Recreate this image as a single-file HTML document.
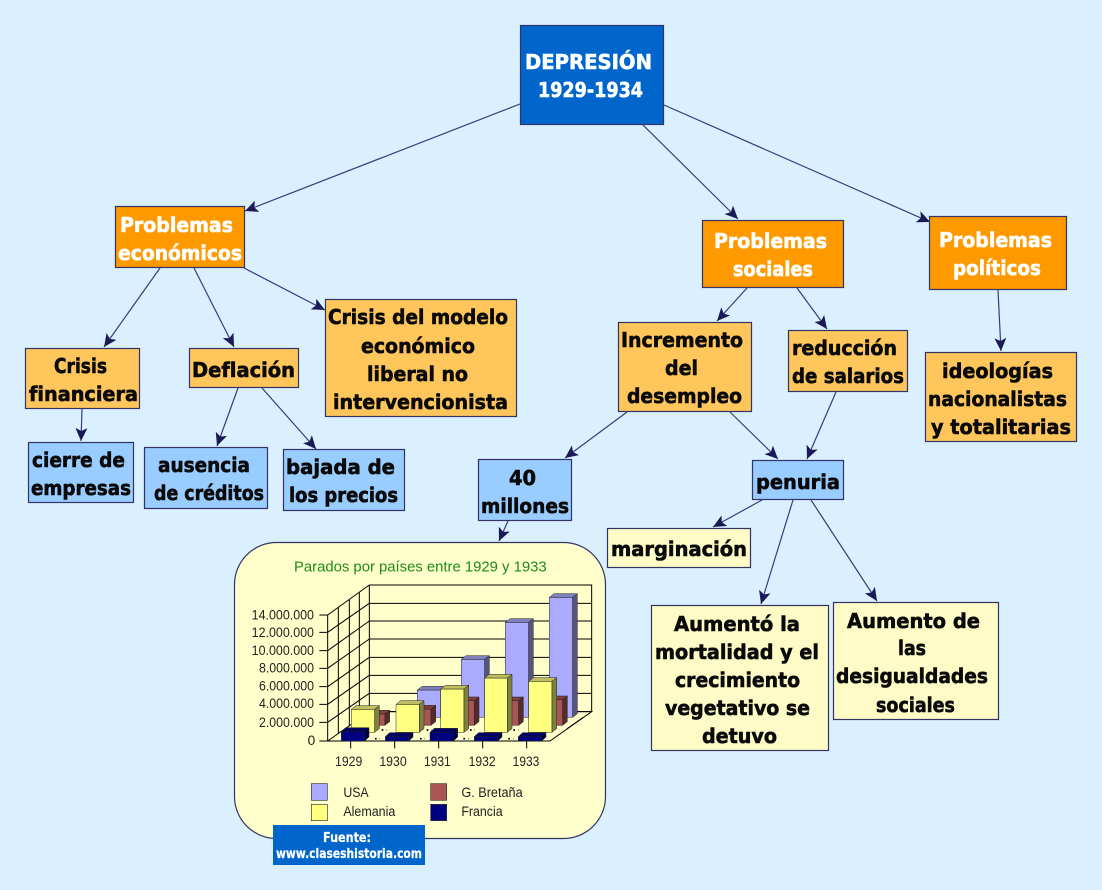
<!DOCTYPE html>
<html lang="es">
<head>
<meta charset="utf-8">
<title>Depresión 1929-1934</title>
<style>
html,body{margin:0;padding:0;background:#DAF0FF;}
svg{display:block;}
.b{stroke:#333366;stroke-width:1.2;}
.t{font-family:"DejaVu Sans",sans-serif;font-weight:bold;font-size:20px;fill:#0a0a0a;stroke:#0a0a0a;stroke-width:.6;}
.w{fill:#fff;stroke:#fff;}
.c{stroke:#3A3A7A;stroke-width:1.2;fill:none;marker-end:url(#a);}
.g{stroke:#000;stroke-width:3;fill:none;}
.l{font-family:"Liberation Sans",sans-serif;font-size:41px;fill:#222;}
</style>
</head>
<body>
<svg width="1102" height="890" viewBox="0 0 1102 890" xmlns="http://www.w3.org/2000/svg">
<defs>
<marker id="a" markerUnits="userSpaceOnUse" markerWidth="14" markerHeight="12" refX="13" refY="6" orient="auto">
<path d="M0 0L13 6L0 12L3 6Z" fill="#1A1A55"/>
</marker>
</defs>
<rect width="1102" height="890" fill="#DAF0FF"/>

<!-- connectors -->
<path class="c" d="M520 104L245 211"/>
<path class="c" d="M643 125L738 219"/>
<path class="c" d="M664 105L930 222"/>
<path class="c" d="M160 268L104 347"/>
<path class="c" d="M194 268L234 347"/>
<path class="c" d="M244 268L325 310"/>
<path class="c" d="M747 288L717 321"/>
<path class="c" d="M797 288L827 329"/>
<path class="c" d="M998 290L1001 351"/>
<path class="c" d="M82 409L81 441"/>
<path class="c" d="M238 388L217 446"/>
<path class="c" d="M262 388L316 449"/>
<path class="c" d="M627 412L565 458"/>
<path class="c" d="M730 412L778 459"/>
<path class="c" d="M836 392L807 459"/>
<path class="c" d="M508 521L499 541"/>
<path class="c" d="M762 500L713 527"/>
<path class="c" d="M793 500L761 604"/>
<path class="c" d="M811 500L877 601"/>

<!-- boxes -->
<rect class="b" x="520.5" y="25.5" width="143" height="99" fill="#0066CC"/>
<rect class="b" x="115.5" y="206.5" width="129" height="61" fill="#FF9900"/>
<rect class="b" x="702.5" y="220.5" width="141" height="67" fill="#FF9900"/>
<rect class="b" x="929.5" y="216.5" width="137" height="73" fill="#FF9900"/>
<rect class="b" x="25.5" y="348.5" width="114" height="60" fill="#FFC65C"/>
<rect class="b" x="189.5" y="348.5" width="109" height="39" fill="#FFC65C"/>
<rect class="b" x="325.5" y="299.5" width="191" height="117" fill="#FFC65C"/>
<rect class="b" x="618.5" y="322.5" width="133" height="89" fill="#FFC65C"/>
<rect class="b" x="788.5" y="330.5" width="119" height="61" fill="#FFC65C"/>
<rect class="b" x="925.5" y="352.5" width="151" height="89" fill="#FFC65C"/>
<rect class="b" x="28.5" y="442.5" width="105" height="60" fill="#99CCFF"/>
<rect class="b" x="144.5" y="447.5" width="123" height="61" fill="#99CCFF"/>
<rect class="b" x="283.5" y="449.5" width="121" height="61" fill="#99CCFF"/>
<rect class="b" x="478.5" y="459.5" width="93" height="61" fill="#99CCFF"/>
<rect class="b" x="752.5" y="460.5" width="91" height="39" fill="#99CCFF"/>
<rect class="b" x="607.5" y="528.5" width="143" height="39" fill="#FFFBC6"/>
<rect class="b" x="651.5" y="605.5" width="177" height="145" fill="#FFFBC6"/>
<rect class="b" x="833.5" y="602.5" width="165" height="117" fill="#FFFBC6"/>
<rect class="b" x="234.5" y="542.5" width="371" height="296" rx="42" fill="#FFFFCC"/>

<!-- chart, drawn at 3x -->
<g transform="translate(230 540) scale(.33333)">
<text x="192" y="95" textLength="758" lengthAdjust="spacingAndGlyphs" style="font-family:'Liberation Sans',sans-serif;font-size:43px;fill:#1E8A1E">Parados por países entre 1929 y 1933</text>

<path d="M293 603L418 515H1085L960 603Z" fill="#FFFFCC"/>
<g class="g">
<path d="M418 135H1085V515"/>
<path d="M418 190H1085M418 243H1085M418 297H1085M418 352H1085M418 406H1085M418 460H1085M418 515H1085"/>
<path d="M418 135V515M293 225V603M325 203V580M358 180V557M388 158V535"/>
<path d="M293 225L418 135M293 277L418 190M293 332L418 243M293 385L418 297M293 440L418 352M293 493L418 406M293 547L418 460M293 603L418 515"/>
<path d="M268 225H293M268 277H293M268 332H293M268 385H293M268 440H293M268 493H293M268 547H293M268 603H960L1085 515H418"/>
<path d="M362 603V625M494 603V625M626 603V625M758 603V625M890 603V625"/>
<path d="M1010 567L1060 532" />
</g>
<path d="M435 596H450M570 596H585M700 596H715M835 596H850M455 570H470M590 570H605M720 570H735M850 570H865" stroke="#000" stroke-width="5" stroke-dasharray="5 9"/>

<!-- USA -->
<g stroke="#222" stroke-width="1.5">
<path d="M562 450H632V532H562Z" fill="#AAAAFF"/><path d="M562 450L576 439H646L632 450Z" fill="#8080BF"/><path d="M632 450L646 439V521L632 532Z" fill="#555580"/>
<path d="M694 358H764V532H694Z" fill="#AAAAFF"/><path d="M694 358L708 347H778L764 358Z" fill="#8080BF"/><path d="M764 358L778 347V521L764 532Z" fill="#555580"/>
<path d="M826 247H896V532H826Z" fill="#AAAAFF"/><path d="M826 247L840 236H910L896 247Z" fill="#8080BF"/><path d="M896 247L910 236V521L896 532Z" fill="#555580"/>
<path d="M958 172H1028V532H958Z" fill="#AAAAFF"/><path d="M958 172L972 161H1042L1028 172Z" fill="#8080BF"/><path d="M1028 172L1042 161V521L1028 532Z" fill="#555580"/>
<!-- G. Bretaña -->
<path d="M410 522H465V556H410Z" fill="#AA5555"/><path d="M410 522L424 511H479L465 522Z" fill="#804040"/><path d="M465 522L479 511V545L465 556Z" fill="#552B2B"/>
<path d="M545 507H603V556H545Z" fill="#AA5555"/><path d="M545 507L559 496H617L603 507Z" fill="#804040"/><path d="M603 507L617 496V545L603 556Z" fill="#552B2B"/>
<path d="M680 482H733V556H680Z" fill="#AA5555"/><path d="M680 482L694 471H747L733 482Z" fill="#804040"/><path d="M733 482L747 471V545L733 556Z" fill="#552B2B"/>
<path d="M810 482H866V556H810Z" fill="#AA5555"/><path d="M810 482L824 471H880L866 482Z" fill="#804040"/><path d="M866 482L880 471V545L866 556Z" fill="#552B2B"/>
<path d="M945 479H998V556H945Z" fill="#AA5555"/><path d="M945 479L959 468H1012L998 479Z" fill="#804040"/><path d="M998 479L1012 468V545L998 556Z" fill="#552B2B"/>
<!-- Alemania -->
<path d="M364 508H434V577H364Z" fill="#FFFF80"/><path d="M364 508L378 497H448L434 508Z" fill="#BFBF60"/><path d="M434 508L448 497V566L434 577Z" fill="#808040"/>
<path d="M498 493H568V577H498Z" fill="#FFFF80"/><path d="M498 493L512 482H582L568 493Z" fill="#BFBF60"/><path d="M568 493L582 482V566L568 577Z" fill="#808040"/>
<path d="M632 447H702V577H632Z" fill="#FFFF80"/><path d="M632 447L646 436H716L702 447Z" fill="#BFBF60"/><path d="M702 447L716 436V566L702 577Z" fill="#808040"/>
<path d="M764 414H832V577H764Z" fill="#FFFF80"/><path d="M764 414L778 403H846L832 414Z" fill="#BFBF60"/><path d="M832 414L846 403V566L832 577Z" fill="#808040"/>
<path d="M896 424H966V577H896Z" fill="#FFFF80"/><path d="M896 424L910 413H980L966 424Z" fill="#BFBF60"/><path d="M966 424L980 413V566L966 577Z" fill="#808040"/>
<!-- Francia -->
<path d="M334 575H404V603H334Z" fill="#000080"/><path d="M334 575L347 563H417L404 575Z" fill="#000060"/><path d="M404 575L417 563V591L404 603Z" fill="#000040"/>
<path d="M466 590H536V603H466Z" fill="#000080"/><path d="M466 590L479 578H549L536 590Z" fill="#000060"/><path d="M536 590L549 578V591L536 603Z" fill="#000040"/>
<path d="M600 577H670V603H600Z" fill="#000080"/><path d="M600 577L613 565H683L670 577Z" fill="#000060"/><path d="M670 577L683 565V591L670 603Z" fill="#000040"/>
<path d="M733 590H803V603H733Z" fill="#000080"/><path d="M733 590L746 578H816L803 590Z" fill="#000060"/><path d="M803 590L816 578V591L803 603Z" fill="#000040"/>
<path d="M865 590H935V603H865Z" fill="#000080"/><path d="M865 590L878 578H948L935 590Z" fill="#000060"/><path d="M935 590L948 578V591L935 603Z" fill="#000040"/>
</g>

<g class="l">
<text x="65" y="238" textLength="187" lengthAdjust="spacingAndGlyphs">14.000.000</text>
<text x="65" y="291" textLength="187" lengthAdjust="spacingAndGlyphs">12.000.000</text>
<text x="65" y="345" textLength="187" lengthAdjust="spacingAndGlyphs">10.000.000</text>
<text x="87" y="397" textLength="165" lengthAdjust="spacingAndGlyphs">8.000.000</text>
<text x="87" y="452" textLength="165" lengthAdjust="spacingAndGlyphs">6.000.000</text>
<text x="87" y="504" textLength="165" lengthAdjust="spacingAndGlyphs">4.000.000</text>
<text x="87" y="561" textLength="165" lengthAdjust="spacingAndGlyphs">2.000.000</text>
<text x="233" y="615">0</text>
<text x="315" y="678" textLength="82" lengthAdjust="spacingAndGlyphs">1929</text>
<text x="448" y="678" textLength="82" lengthAdjust="spacingAndGlyphs">1930</text>
<text x="582" y="678" textLength="80" lengthAdjust="spacingAndGlyphs">1931</text>
<text x="716" y="678" textLength="81" lengthAdjust="spacingAndGlyphs">1932</text>
<text x="848" y="678" textLength="80" lengthAdjust="spacingAndGlyphs">1933</text>
<text x="340" y="771" textLength="76" lengthAdjust="spacingAndGlyphs">USA</text>
<text x="694" y="771" textLength="184" lengthAdjust="spacingAndGlyphs">G. Bretaña</text>
<text x="340" y="828" textLength="156" lengthAdjust="spacingAndGlyphs">Alemania</text>
<text x="694" y="828" textLength="124" lengthAdjust="spacingAndGlyphs">Francia</text>
</g>
<g stroke="#333" stroke-width="2">
<rect x="244" y="731" width="48" height="50" fill="#AAAAFF"/>
<rect x="602" y="731" width="48" height="50" fill="#AA5555"/>
<rect x="244" y="793" width="48" height="49" fill="#FFFF80"/>
<rect x="602" y="793" width="48" height="49" fill="#000080"/>
</g>
</g>

<!-- source -->
<rect x="273" y="825" width="152" height="40" fill="#0066CC"/>
<text class="t w" x="323" y="842" style="font-size:13px;stroke-width:.2" textLength="48" lengthAdjust="spacingAndGlyphs">Fuente:</text>
<text class="t w" x="276" y="858" style="font-size:13px;stroke-width:.2" textLength="146" lengthAdjust="spacingAndGlyphs">www.claseshistoria.com</text>

<!-- labels -->
<text class="t w" x="525" y="69" textLength="127" lengthAdjust="spacingAndGlyphs">DEPRESIÓN</text>
<text class="t w" x="538" y="97" textLength="105" lengthAdjust="spacingAndGlyphs">1929-1934</text>
<text class="t w" x="120" y="232" textLength="113" lengthAdjust="spacingAndGlyphs">Problemas</text>
<text class="t w" x="118" y="260" textLength="124" lengthAdjust="spacingAndGlyphs">económicos</text>
<text class="t w" x="714" y="248" textLength="113" lengthAdjust="spacingAndGlyphs">Problemas</text>
<text class="t w" x="733" y="276" textLength="80" lengthAdjust="spacingAndGlyphs">sociales</text>
<text class="t w" x="939" y="247" textLength="113" lengthAdjust="spacingAndGlyphs">Problemas</text>
<text class="t w" x="953" y="275" textLength="88" lengthAdjust="spacingAndGlyphs">políticos</text>
<text class="t" x="54" y="373" textLength="53" lengthAdjust="spacingAndGlyphs">Crisis</text>
<text class="t" x="29" y="401" textLength="109" lengthAdjust="spacingAndGlyphs">financiera</text>
<text class="t" x="192" y="377" textLength="103" lengthAdjust="spacingAndGlyphs">Deflación</text>
<text class="t" x="328" y="324" textLength="180" lengthAdjust="spacingAndGlyphs">Crisis del modelo</text>
<text class="t" x="361" y="353" textLength="114" lengthAdjust="spacingAndGlyphs">económico</text>
<text class="t" x="367" y="381" textLength="101" lengthAdjust="spacingAndGlyphs">liberal no</text>
<text class="t" x="333" y="409" textLength="175" lengthAdjust="spacingAndGlyphs">intervencionista</text>
<text class="t" x="621" y="347" textLength="122" lengthAdjust="spacingAndGlyphs">Incremento</text>
<text class="t" x="665" y="375" textLength="33" lengthAdjust="spacingAndGlyphs">del</text>
<text class="t" x="627" y="403" textLength="115" lengthAdjust="spacingAndGlyphs">desempleo</text>
<text class="t" x="792" y="355" textLength="105" lengthAdjust="spacingAndGlyphs">reducción</text>
<text class="t" x="792" y="383" textLength="112" lengthAdjust="spacingAndGlyphs">de salarios</text>
<text class="t" x="942" y="378" textLength="111" lengthAdjust="spacingAndGlyphs">ideologías</text>
<text class="t" x="928" y="406" textLength="139" lengthAdjust="spacingAndGlyphs">nacionalistas</text>
<text class="t" x="931" y="434" textLength="140" lengthAdjust="spacingAndGlyphs">y totalitarias</text>
<text class="t" x="32" y="467" textLength="93" lengthAdjust="spacingAndGlyphs">cierre de</text>
<text class="t" x="31" y="495" textLength="100" lengthAdjust="spacingAndGlyphs">empresas</text>
<text class="t" x="158" y="472" textLength="92" lengthAdjust="spacingAndGlyphs">ausencia</text>
<text class="t" x="154" y="500" textLength="110" lengthAdjust="spacingAndGlyphs">de créditos</text>
<text class="t" x="286" y="474" textLength="109" lengthAdjust="spacingAndGlyphs">bajada de</text>
<text class="t" x="289" y="502" textLength="109" lengthAdjust="spacingAndGlyphs">los precios</text>
<text class="t" x="509" y="485" textLength="27" lengthAdjust="spacingAndGlyphs">40</text>
<text class="t" x="481" y="513" textLength="88" lengthAdjust="spacingAndGlyphs">millones</text>
<text class="t" x="756" y="489" textLength="84" lengthAdjust="spacingAndGlyphs">penuria</text>
<text class="t" x="611" y="556" textLength="136" lengthAdjust="spacingAndGlyphs">marginación</text>
<text class="t" x="674" y="631" textLength="126" lengthAdjust="spacingAndGlyphs">Aumentó la</text>
<text class="t" x="655" y="659" textLength="164" lengthAdjust="spacingAndGlyphs">mortalidad y el</text>
<text class="t" x="675" y="687" textLength="125" lengthAdjust="spacingAndGlyphs">crecimiento</text>
<text class="t" x="665" y="715" textLength="145" lengthAdjust="spacingAndGlyphs">vegetativo se</text>
<text class="t" x="702" y="743" textLength="75" lengthAdjust="spacingAndGlyphs">detuvo</text>
<text class="t" x="847" y="628" textLength="133" lengthAdjust="spacingAndGlyphs">Aumento de</text>
<text class="t" x="898" y="655" textLength="28" lengthAdjust="spacingAndGlyphs">las</text>
<text class="t" x="836" y="683" textLength="152" lengthAdjust="spacingAndGlyphs">desigualdades</text>
<text class="t" x="876" y="712" textLength="79" lengthAdjust="spacingAndGlyphs">sociales</text>
</svg>
</body>
</html>
